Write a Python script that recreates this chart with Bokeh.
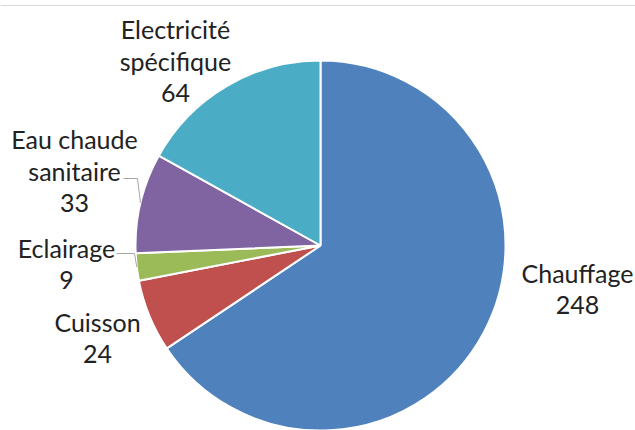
import math
from bokeh.plotting import figure
from bokeh.models import ColumnDataSource, Span
from bokeh.core.properties import value
from bokeh.embed import file_html
from bokeh.resources import INLINE

# ---- data ----
categories = ["Chauffage", "Cuisson", "Eclairage", "Eau chaude sanitaire", "Electricité spécifique"]
display_names = ["Chauffage", "Cuisson", "Eclairage", "Eau chaude\nsanitaire", "Electricité\nspécifique"]
values = [248, 24, 9, 33, 64]
colors = ["#4F81BD", "#C0504D", "#9BBB59", "#8064A2", "#4BACC6"]

# ---- layout (pixels, y measured from bottom) ----
W, H = 635, 430
CX, CY, R = 320, 185, 185
label_pos = [(577, 142), (97, 93), (66, 167), (74, 260), (175, 370)]
elbows = {2: [(116, 177), (134, 177)], 3: [(123, 252), (137, 252)]}

total = float(sum(values))
starts, ends, mids = [], [], []
cum = 0.0
for v in values:
    a0 = math.pi / 2 - 2 * math.pi * cum / total
    cum += v
    a1 = math.pi / 2 - 2 * math.pi * cum / total
    starts.append(a1)
    ends.append(a0)
    mids.append((a0 + a1) / 2)

src = ColumnDataSource(dict(start=starts, end=ends, color=colors, cat=categories))

p = figure(width=W, height=H, x_range=(0, W), y_range=(0, H),
           output_backend="svg", toolbar_location=None,
           x_axis_location=None, y_axis_location=None, min_border=0)
p.grid.visible = False
p.outline_line_color = None
p.background_fill_color = "white"

p.add_layout(Span(location=H - 5, dimension="width", line_color="#d9d9d9", line_width=1))

p.wedge(x=CX, y=CY, radius=R, start_angle="start", end_angle="end",
        fill_color="color", line_color="white", line_width=2, source=src)

# leader lines
for i, pts in elbows.items():
    ex = CX + R * math.cos(mids[i])
    ey = CY + R * math.sin(mids[i])
    xs = [pt[0] for pt in pts] + [ex]
    ys = [pt[1] for pt in pts] + [ey]
    p.line(xs, ys, line_color="#a6a6a6", line_width=1)

labels = [f"{n}\n{v}" for n, v in zip(display_names, values)]
lsrc = ColumnDataSource(dict(x=[lp[0] for lp in label_pos], y=[lp[1] for lp in label_pos], t=labels))
p.text(x="x", y="y", text="t", source=lsrc, text_font=value("Lato"),
       text_font_size="25px", text_color="#222222", text_align="center",
       text_baseline="middle", text_line_height=1.05)

open("out.html", "w").write(file_html(p, INLINE))
